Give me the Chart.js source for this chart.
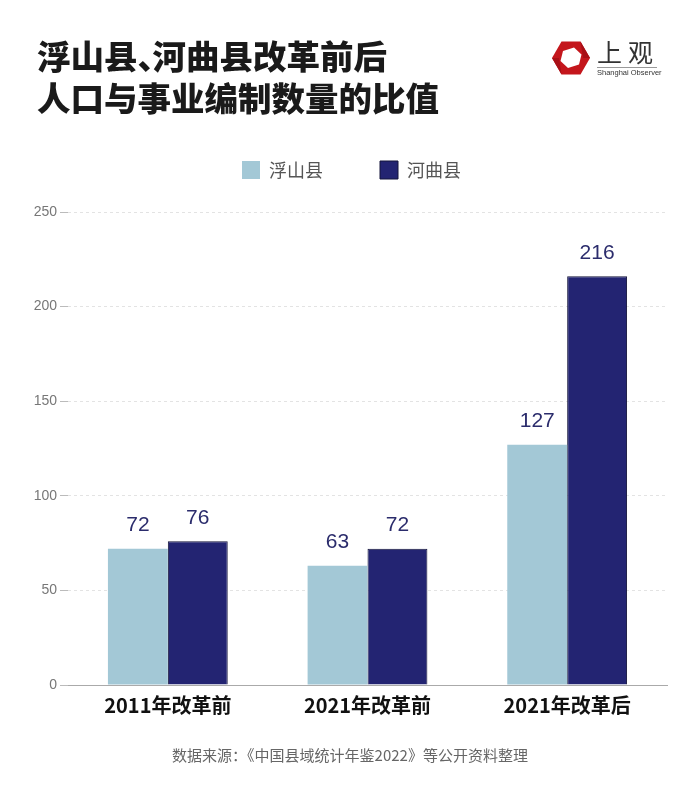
<!DOCTYPE html>
<html><head><meta charset="utf-8">
<script src="https://cdn.jsdelivr.net/npm/chart.js@4"></script>
<style>
html,body{margin:0;padding:0;background:#fff;}
#wrap{position:relative;width:700px;height:791px;overflow:hidden;background:#fff;}
#title{position:absolute;left:37px;top:34px;font-family:"Noto Sans CJK SC";font-weight:900;font-size:33.5px;line-height:42px;color:#1a1a1a;white-space:nowrap;}
.dun{display:inline-block;width:15px;overflow:visible;}
#logo{position:absolute;left:550px;top:36px;width:120px;height:44px;}
#logoTxt{position:absolute;left:47px;top:-3px;font-family:"Noto Sans CJK SC";font-size:25px;color:#333;letter-spacing:6px;}
#logoLine{position:absolute;left:47px;top:31px;width:60px;height:1px;background:#999;}
#logoEn{position:absolute;left:47px;top:32px;font-family:"Liberation Sans";font-size:7.5px;color:#333;white-space:nowrap;}
#src{position:absolute;left:0;width:700px;top:744px;text-align:center;font-family:"Noto Sans CJK SC";font-size:15px;color:#666;}
canvas{position:absolute;left:0;top:0;}
</style></head>
<body><div id="wrap">
<canvas id="c" width="700" height="791"></canvas>
<div id="title">浮山县<span class="dun">、</span>河曲县改革前后<br>人口与事业编制数量的比值</div>
<div id="logo">
<svg width="42" height="42" viewBox="0 0 42 42" style="position:absolute;left:0;top:1px">
<polygon points="40,21 30.5,37.5 11.5,37.5 2,21 11.5,4.5 30.5,4.5" fill="#c4161c"/>
<polygon points="30.5,4.5 40,21 33,21" fill="#a80f16"/>
<polygon points="11.5,37.5 2,21 9,21" fill="#a80f16"/>
<polygon points="24,10.5 31.5,17.5 29,27.5 18,31 10.5,24 13,14" fill="#fff"/>
</svg>
<div id="logoTxt">上观</div>
<div id="logoLine"></div>
<div id="logoEn">Shanghai Observer</div>
</div>
<div id="src">数据来源：《中国县域统计年鉴2022》等公开资料整理</div>
</div>
<script>
const categories = ["2011年改革前", "2021年改革前", "2021年改革后"];
const seriesNames = ["浮山县", "河曲县"];
const fushan = [72, 63, 127];
const hequ = [76, 72, 216];
const yTicks = [0, 50, 100, 150, 200, 250];

const valueLabels = {
  id: 'valueLabels',
  afterDatasetsDraw(chart) {
    const ctx = chart.ctx;
    ctx.save();
    ctx.font = '21px "Liberation Sans"';
    ctx.fillStyle = '#2b2c6c';
    ctx.textAlign = 'center';
    ctx.textBaseline = 'bottom';
    chart.data.datasets.forEach((ds, i) => {
      chart.getDatasetMeta(i).data.forEach((bar, j) => {
        ctx.fillText(String(ds.data[j]), bar.x, bar.y - 13);
      });
    });
    ctx.restore();
  }
};

const legendGap = {
  id: 'legendGap',
  beforeInit(chart) {
    const lg = chart.legend;
    if (!lg) return;
    const orig = lg.fit;
    lg.fit = function () { orig.call(this); this.height += 23; };
  },
  afterLayout(chart) {
    if (chart.legend) chart.legend.left += 18;
  }
};

new Chart(document.getElementById('c'), {
  type: 'bar',
  data: {
    labels: categories,
    datasets: [
      { label: seriesNames[0], data: fushan, backgroundColor: '#a3c8d6', borderWidth: 0 },
      { label: seriesNames[1], data: hequ, backgroundColor: '#232472', borderColor: '#14143a', borderWidth: 1 }
    ]
  },
  options: {
    responsive: false,
    animation: false,
    layout: { padding: { top: 104, bottom: 66, left: 18, right: 33 } },
    datasets: { bar: { categoryPercentage: 0.6, barPercentage: 1.0 } },
    plugins: {
      legend: {
        display: true,
        position: 'top',
        labels: {
          boxWidth: 18, boxHeight: 18, padding: 57,
          font: { family: '"Noto Sans CJK SC"', size: 18 },
          color: '#555'
        }
      },
      tooltip: { enabled: false }
    },
    scales: {
      x: {
        grid: { display: false, drawTicks: false },
        border: { display: true, color: '#aaa', width: 1 },
        ticks: { color: '#111', padding: 8, font: { family: '"Noto Sans CJK SC"', size: 20, weight: 'bold' } }
      },
      y: {
        min: 0, max: 250,
        afterBuildTicks(scale) { scale.ticks = yTicks.map(v => ({ value: v })); },
        afterFit(scale) { scale.width = 50; },
        border: { display: false, dash: [3, 3] },
        grid: { color: '#e3e3e3', tickColor: '#bbb', tickLength: 8, lineWidth: 1, drawTicks: true },
        ticks: { color: '#777', padding: 3, font: { family: '"Liberation Sans"', size: 14 } }
      }
    }
  },
  plugins: [valueLabels, legendGap]
});
</script>
</body></html>
